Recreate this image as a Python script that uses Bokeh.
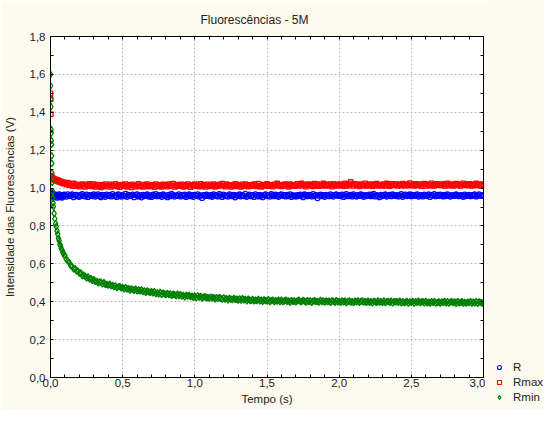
from bokeh.plotting import figure
from bokeh.layouts import row
from bokeh.models import (FixedTicker, CustomJSTickFormatter, LinearAxis, Legend,
                          LegendItem, Range1d, ColumnDataSource)
from bokeh.embed import file_html
from bokeh.resources import INLINE

# ---------------- data ----------------
tempo = [
    0.000, 0.001, 0.002, 0.003, 0.004, 0.005, 0.006, 0.007, 0.008, 0.009,
    0.010, 0.012, 0.014, 0.016, 0.018, 0.020, 0.025, 0.030, 0.035, 0.040,
    0.045, 0.050, 0.055, 0.060, 0.065, 0.070, 0.075, 0.080, 0.085, 0.090, 0.095,
    0.10, 0.11, 0.12, 0.13, 0.14, 0.15, 0.16, 0.17, 0.18, 0.19,
    0.20, 0.21, 0.22, 0.23, 0.24, 0.25, 0.26, 0.27, 0.28, 0.29,
    0.30, 0.31, 0.32, 0.33, 0.34, 0.35, 0.36, 0.37, 0.38, 0.39,
    0.40, 0.41, 0.42, 0.43, 0.44, 0.45, 0.46, 0.47, 0.48, 0.49,
    0.50, 0.51, 0.52, 0.53, 0.54, 0.55, 0.56, 0.57, 0.58, 0.59,
    0.60, 0.61, 0.62, 0.63, 0.64, 0.65, 0.66, 0.67, 0.68, 0.69,
    0.70, 0.71, 0.72, 0.73, 0.74, 0.75, 0.76, 0.77, 0.78, 0.79,
    0.80, 0.81, 0.82, 0.83, 0.84, 0.85, 0.86, 0.87, 0.88, 0.89,
    0.90, 0.91, 0.92, 0.93, 0.94, 0.95, 0.96, 0.97, 0.98, 0.99,
    1.00, 1.01, 1.02, 1.03, 1.04, 1.05, 1.06, 1.07, 1.08, 1.09,
    1.10, 1.11, 1.12, 1.13, 1.14, 1.15, 1.16, 1.17, 1.18, 1.19,
    1.20, 1.21, 1.22, 1.23, 1.24, 1.25, 1.26, 1.27, 1.28, 1.29,
    1.30, 1.31, 1.32, 1.33, 1.34, 1.35, 1.36, 1.37, 1.38, 1.39,
    1.40, 1.41, 1.42, 1.43, 1.44, 1.45, 1.46, 1.47, 1.48, 1.49,
    1.50, 1.51, 1.52, 1.53, 1.54, 1.55, 1.56, 1.57, 1.58, 1.59,
    1.60, 1.61, 1.62, 1.63, 1.64, 1.65, 1.66, 1.67, 1.68, 1.69,
    1.70, 1.71, 1.72, 1.73, 1.74, 1.75, 1.76, 1.77, 1.78, 1.79,
    1.80, 1.81, 1.82, 1.83, 1.84, 1.85, 1.86, 1.87, 1.88, 1.89,
    1.90, 1.91, 1.92, 1.93, 1.94, 1.95, 1.96, 1.97, 1.98, 1.99,
    2.00, 2.01, 2.02, 2.03, 2.04, 2.05, 2.06, 2.07, 2.08, 2.09,
    2.10, 2.11, 2.12, 2.13, 2.14, 2.15, 2.16, 2.17, 2.18, 2.19,
    2.20, 2.21, 2.22, 2.23, 2.24, 2.25, 2.26, 2.27, 2.28, 2.29,
    2.30, 2.31, 2.32, 2.33, 2.34, 2.35, 2.36, 2.37, 2.38, 2.39,
    2.40, 2.41, 2.42, 2.43, 2.44, 2.45, 2.46, 2.47, 2.48, 2.49,
    2.50, 2.51, 2.52, 2.53, 2.54, 2.55, 2.56, 2.57, 2.58, 2.59,
    2.60, 2.61, 2.62, 2.63, 2.64, 2.65, 2.66, 2.67, 2.68, 2.69,
    2.70, 2.71, 2.72, 2.73, 2.74, 2.75, 2.76, 2.77, 2.78, 2.79,
    2.80, 2.81, 2.82, 2.83, 2.84, 2.85, 2.86, 2.87, 2.88, 2.89,
    2.90, 2.91, 2.92, 2.93, 2.94, 2.95, 2.96, 2.97, 2.98, 2.99,
    3.00,
]

R = [
    0.985, 0.978, 0.972, 0.968, 0.965, 0.961, 0.958, 0.963, 0.955, 0.960,
    0.957, 0.962, 0.953, 0.959, 0.964, 0.951, 0.958, 0.966, 0.954, 0.960,
    0.949, 0.962, 0.957, 0.967, 0.952, 0.959, 0.963, 0.950, 0.961, 0.956, 0.965,
    0.963, 0.955, 0.967, 0.958, 0.960, 0.966, 0.952, 0.961, 0.964, 0.957,
    0.954, 0.962, 0.968, 0.959, 0.956, 0.965, 0.953, 0.963, 0.960, 0.958,
    0.966, 0.955, 0.961, 0.967, 0.957, 0.952, 0.964, 0.962, 0.954, 0.965,
    0.959, 0.963, 0.956, 0.968, 0.958, 0.960, 0.953, 0.966, 0.961, 0.955,
    0.962, 0.957, 0.969, 0.954, 0.964, 0.959, 0.960, 0.965, 0.952, 0.963,
    0.967, 0.956, 0.961, 0.951, 0.964, 0.958, 0.962, 0.966, 0.955, 0.960,
    0.953, 0.965, 0.959, 0.968, 0.957, 0.961, 0.963, 0.954, 0.966, 0.958,
    0.960, 0.952, 0.964, 0.957, 0.969, 0.962, 0.955, 0.961, 0.959, 0.967,
    0.956, 0.963, 0.958, 0.965, 0.953, 0.960, 0.966, 0.957, 0.962, 0.954,
    0.964, 0.959, 0.967, 0.955, 0.961, 0.948, 0.963, 0.958, 0.965, 0.960,
    0.957, 0.962, 0.954, 0.966, 0.959, 0.963, 0.956, 0.968, 0.961, 0.953,
    0.965, 0.958, 0.960, 0.955, 0.967, 0.962, 0.957, 0.964, 0.951, 0.961,
    0.959, 0.966, 0.956, 0.963, 0.958, 0.969, 0.954, 0.960, 0.965, 0.957,
    0.962, 0.953, 0.967, 0.960, 0.956, 0.964, 0.959, 0.952, 0.963, 0.966,
    0.958, 0.961, 0.955, 0.968, 0.962, 0.957, 0.965, 0.960, 0.954, 0.963,
    0.966, 0.959, 0.962, 0.956, 0.964, 0.958, 0.967, 0.953, 0.961, 0.960,
    0.955, 0.963, 0.958, 0.965, 0.960, 0.952, 0.966, 0.962, 0.957, 0.964,
    0.961, 0.956, 0.968, 0.959, 0.963, 0.947, 0.960, 0.965, 0.958, 0.962,
    0.954, 0.964, 0.960, 0.957, 0.967, 0.961, 0.955, 0.963, 0.966, 0.959,
    0.962, 0.958, 0.965, 0.953, 0.961, 0.968, 0.957, 0.960, 0.964, 0.956,
    0.967, 0.960, 0.955, 0.963, 0.959, 0.966, 0.961, 0.954, 0.962, 0.958,
    0.960, 0.965, 0.957, 0.962, 0.969, 0.956, 0.963, 0.959, 0.952, 0.964,
    0.958, 0.961, 0.966, 0.955, 0.960, 0.964, 0.957, 0.967, 0.962, 0.959,
    0.963, 0.956, 0.960, 0.968, 0.954, 0.962, 0.965, 0.958, 0.961, 0.966,
    0.957, 0.964, 0.959, 0.962, 0.967, 0.955, 0.960, 0.963, 0.956, 0.965,
    0.961, 0.958, 0.966, 0.953, 0.963, 0.960, 0.968, 0.957, 0.964, 0.959,
    0.965, 0.960, 0.956, 0.964, 0.958, 0.967, 0.962, 0.955, 0.961, 0.963,
    0.959, 0.966, 0.961, 0.957, 0.963, 0.960, 0.954, 0.965, 0.958, 0.962,
    0.964, 0.957, 0.963, 0.960, 0.966, 0.956, 0.961, 0.967, 0.959, 0.962,
    0.960,
]

Rmax = [
    1.500, 1.470, 1.390, 1.066, 1.061, 1.058, 1.063, 1.055, 1.059, 1.052,
    1.056, 1.050, 1.054, 1.047, 1.051, 1.045, 1.048, 1.042, 1.046, 1.039,
    1.043, 1.036, 1.040, 1.033, 1.037, 1.030, 1.034, 1.027, 1.031, 1.024, 1.029,
    1.026, 1.018, 1.029, 1.015, 1.022, 1.012, 1.024, 1.010, 1.019, 1.014,
    1.008, 1.017, 1.021, 1.011, 1.006, 1.019, 1.013, 1.022, 1.009, 1.016,
    1.020, 1.007, 1.014, 1.018, 1.010, 1.004, 1.016, 1.012, 1.021, 1.008,
    1.013, 1.019, 1.006, 1.015, 1.011, 1.022, 1.009, 1.017, 1.005, 1.014,
    1.018, 1.010, 1.021, 1.007, 1.013, 1.016, 1.004, 1.019, 1.012, 1.008,
    1.015, 1.022, 1.009, 1.014, 1.006, 1.018, 1.011, 1.020, 1.008, 1.013,
    1.010, 1.017, 1.005, 1.021, 1.013, 1.009, 1.016, 1.007, 1.019, 1.012,
    1.016, 1.008, 1.020, 1.011, 1.014, 1.023, 1.006, 1.015, 1.010, 1.018,
    1.012, 1.019, 1.007, 1.016, 1.009, 1.021, 1.013, 1.005, 1.017, 1.011,
    1.020, 1.010, 1.015, 1.008, 1.022, 1.012, 1.018, 1.006, 1.014, 1.019,
    1.009, 1.016, 1.011, 1.021, 1.007, 1.015, 1.010, 1.019, 1.013, 1.023,
    1.014, 1.008, 1.020, 1.012, 1.017, 1.006, 1.016, 1.011, 1.022, 1.009,
    1.018, 1.013, 1.007, 1.019, 1.010, 1.021, 1.014, 1.008, 1.017, 1.012,
    1.011, 1.020, 1.015, 1.009, 1.023, 1.013, 1.006, 1.018, 1.012, 1.016,
    1.022, 1.010, 1.017, 1.013, 1.008, 1.019, 1.015, 1.024, 1.011, 1.014,
    1.009, 1.018, 1.012, 1.021, 1.016, 1.007, 1.020, 1.013, 1.017, 1.010,
    1.015, 1.022, 1.011, 1.017, 1.024, 1.013, 1.019, 1.008, 1.016, 1.021,
    1.012, 1.018, 1.009, 1.023, 1.014, 1.020, 1.010, 1.017, 1.013, 1.024,
    1.016, 1.011, 1.021, 1.014, 1.019, 1.008, 1.022, 1.015, 1.012, 1.018,
    1.020, 1.013, 1.017, 1.010, 1.024, 1.016, 1.011, 1.021, 1.032, 1.019,
    1.012, 1.022, 1.015, 1.018, 1.009, 1.020, 1.016, 1.013, 1.025, 1.011,
    1.017, 1.014, 1.021, 1.010, 1.019, 1.015, 1.023, 1.012, 1.018, 1.016,
    1.013, 1.020, 1.011, 1.024, 1.016, 1.010, 1.019, 1.022, 1.014, 1.017,
    1.021, 1.012, 1.018, 1.015, 1.023, 1.011, 1.017, 1.020, 1.013, 1.026,
    1.015, 1.019, 1.012, 1.022, 1.016, 1.014, 1.021, 1.010, 1.018, 1.023,
    1.011, 1.020, 1.017, 1.013, 1.025, 1.016, 1.012, 1.019, 1.022, 1.015,
    1.018, 1.014, 1.022, 1.011, 1.019, 1.024, 1.013, 1.017, 1.020, 1.012,
    1.016, 1.023, 1.014, 1.020, 1.012, 1.018, 1.025, 1.015, 1.019, 1.013,
    1.022, 1.017, 1.011, 1.021, 1.016, 1.024, 1.014, 1.019, 1.013, 1.020,
    1.017,
]

Rmin = [
    1.600, 1.540, 1.470, 1.430, 1.310, 1.290, 1.250, 1.230, 1.170, 1.130,
    1.080, 1.030, 0.982, 0.947, 0.921, 0.902, 0.866, 0.838, 0.812, 0.796,
    0.774, 0.757, 0.734, 0.722, 0.703, 0.694, 0.680, 0.673, 0.661, 0.657, 0.645,
    0.643, 0.624, 0.616, 0.607, 0.591, 0.586, 0.573, 0.575, 0.563, 0.562,
    0.551, 0.552, 0.538, 0.541, 0.534, 0.526, 0.531, 0.521, 0.522, 0.513,
    0.517, 0.507, 0.508, 0.500, 0.505, 0.502, 0.494, 0.501, 0.492, 0.492,
    0.487, 0.493, 0.485, 0.486, 0.479, 0.484, 0.474, 0.479, 0.480, 0.473,
    0.475, 0.468, 0.475, 0.467, 0.469, 0.461, 0.468, 0.464, 0.460, 0.466,
    0.457, 0.462, 0.457, 0.462, 0.453, 0.457, 0.449, 0.457, 0.452, 0.449,
    0.453, 0.447, 0.453, 0.443, 0.447, 0.442, 0.449, 0.439, 0.445, 0.442,
    0.438, 0.444, 0.438, 0.441, 0.433, 0.440, 0.436, 0.432, 0.440, 0.432,
    0.437, 0.430, 0.433, 0.426, 0.434, 0.429, 0.434, 0.427, 0.430, 0.423,
    0.429, 0.422, 0.431, 0.424, 0.428, 0.419, 0.424, 0.427, 0.420, 0.423,
    0.419, 0.425, 0.420, 0.422, 0.415, 0.422, 0.417, 0.423, 0.418, 0.413,
    0.421, 0.414, 0.417, 0.410, 0.418, 0.414, 0.411, 0.418, 0.412, 0.414,
    0.408, 0.415, 0.409, 0.416, 0.410, 0.412, 0.405, 0.414, 0.409, 0.406,
    0.412, 0.404, 0.409, 0.406, 0.412, 0.404, 0.409, 0.402, 0.410, 0.406,
    0.404, 0.411, 0.401, 0.406, 0.408, 0.400, 0.406, 0.403, 0.408, 0.401,
    0.408, 0.401, 0.404, 0.409, 0.402, 0.405, 0.398, 0.406, 0.402, 0.404,
    0.399, 0.405, 0.408, 0.402, 0.400, 0.407, 0.403, 0.398, 0.406, 0.401,
    0.405, 0.397, 0.403, 0.406, 0.400, 0.402, 0.398, 0.407, 0.401, 0.404,
    0.398, 0.405, 0.400, 0.403, 0.396, 0.404, 0.402, 0.397, 0.406, 0.399,
    0.402, 0.396, 0.405, 0.399, 0.403, 0.395, 0.400, 0.404, 0.398, 0.401,
    0.395, 0.403, 0.399, 0.404, 0.397, 0.402, 0.405, 0.398, 0.400, 0.396,
    0.403, 0.397, 0.400, 0.394, 0.402, 0.399, 0.396, 0.404, 0.398, 0.401,
    0.396, 0.404, 0.395, 0.400, 0.402, 0.397, 0.403, 0.394, 0.401, 0.399,
    0.401, 0.397, 0.403, 0.394, 0.400, 0.395, 0.398, 0.402, 0.393, 0.399,
    0.396, 0.402, 0.393, 0.401, 0.397, 0.403, 0.395, 0.399, 0.400, 0.394,
    0.402, 0.394, 0.398, 0.393, 0.400, 0.396, 0.401, 0.392, 0.397, 0.399,
    0.393, 0.399, 0.396, 0.402, 0.394, 0.400, 0.392, 0.398, 0.401, 0.395,
    0.399, 0.391, 0.400, 0.394, 0.396, 0.401, 0.393, 0.397, 0.392, 0.398,
    0.395, 0.400, 0.392, 0.398, 0.394, 0.401, 0.391, 0.399, 0.396, 0.393,
    0.397,
]

series_names = ["R", "Rmax", "Rmin"]

x_ticks = [0.0, 0.5, 1.0, 1.5, 2.0, 2.5, 3.0]
x_tick_labels = ["0,0", "0,5", "1,0", "1,5", "2,0", "2,5", "3,0"]
x_minor = [0.1, 0.2, 0.3, 0.4, 0.6, 0.7, 0.8, 0.9, 1.1, 1.2, 1.3, 1.4,
           1.6, 1.7, 1.8, 1.9, 2.1, 2.2, 2.3, 2.4, 2.6, 2.7, 2.8, 2.9]
y_ticks = [0.0, 0.2, 0.4, 0.6, 0.8, 1.0, 1.2, 1.4, 1.6, 1.8]
y_tick_labels = ["0,0", "0,2", "0,4", "0,6", "0,8", "1,0", "1,2", "1,4", "1,6", "1,8"]
y_minor = [0.1, 0.3, 0.5, 0.7, 0.9, 1.1, 1.3, 1.5, 1.7]

assert len(tempo) == len(R) == len(Rmax) == len(Rmin), (len(tempo), len(R), len(Rmax), len(Rmin))

# ---------------- styles ----------------
BG = "#FDFAF0"
FONT = "Liberation Sans"
TXT = "#222222"
COLORS = ["#0000FF", "#FF0000", "#008000"]
MARKERS = ["circle", "square", "diamond"]
SIZES = [5, 4.5, 6.5]

# ---------------- main figure ----------------
p = figure(width=485, height=409, output_backend="svg", toolbar_location=None,
           x_range=Range1d(0, 3), y_range=Range1d(0, 1.8),
           min_border_left=46, min_border_right=2, min_border_top=35,
           min_border_bottom=32, border_fill_color=BG,
           background_fill_color="white")
p.frame_align = False

p.title.text = "Fluorescências - 5M"
p.title.align = "left"
p.title.offset = 150
p.title.text_font = FONT
p.title.text_font_size = "12px"
p.title.text_font_style = "normal"
p.title.text_color = TXT
p.title.standoff = 20

p.outline_line_color = "black"
p.outline_line_width = 1

xt = FixedTicker(ticks=x_ticks, minor_ticks=x_minor)
yt = FixedTicker(ticks=y_ticks, minor_ticks=y_minor)

code = ("const i = vals.findIndex(v => Math.abs(v - tick) < 1e-9);"
        "return i >= 0 ? labs[i] : '';")
xf = CustomJSTickFormatter(args=dict(vals=x_ticks, labs=x_tick_labels), code=code)
yf = CustomJSTickFormatter(args=dict(vals=y_ticks, labs=y_tick_labels), code=code)
blank = CustomJSTickFormatter(code="return '';")


def style_axis(ax, ticker, formatter):
    ax.ticker = ticker
    ax.formatter = formatter
    ax.major_tick_in = 3
    ax.major_tick_out = 0
    ax.minor_tick_in = 3
    ax.minor_tick_out = 0
    ax.axis_line_color = "black"
    ax.major_tick_line_color = "black"
    ax.minor_tick_line_color = "black"
    ax.major_label_text_font = FONT
    ax.major_label_text_font_size = "11.5px"
    ax.major_label_text_color = TXT
    ax.axis_label_text_font = FONT
    ax.axis_label_text_font_size = "11.5px"
    ax.axis_label_text_font_style = "normal"
    ax.axis_label_text_color = TXT


xa = p.xaxis[0]
style_axis(xa, xt, xf)
xa.axis_label = "Tempo (s)"
xa.major_label_standoff = 1
xa.axis_label_standoff = 3

ya = p.yaxis[0]
style_axis(ya, yt, yf)
ya.axis_label = "Intensidade das Fluorescências (V)"
ya.major_label_standoff = 5
ya.axis_label_standoff = 11

for loc, tk in (("above", xt), ("right", yt)):
    ax = LinearAxis(ticker=tk, formatter=blank)
    ax.major_tick_in = 3
    ax.major_tick_out = 0
    ax.minor_tick_in = 3
    ax.minor_tick_out = 0
    ax.major_label_text_font_size = "1px"
    ax.major_label_text_color = None
    ax.major_label_standoff = 0
    ax.axis_line_color = "black"
    p.add_layout(ax, loc)

p.xgrid.ticker = xt
p.ygrid.ticker = yt
for g in (p.xgrid[0], p.ygrid[0]):
    g.grid_line_color = "#BDBDBD"
    g.grid_line_dash = "2 2"
    g.grid_line_width = 1

src = ColumnDataSource(data=dict(t=tempo, R=R, Rmax=Rmax, Rmin=Rmin))
for name, col, mk, sz in zip(series_names, COLORS, MARKERS, SIZES):
    p.scatter("t", name, source=src, marker=mk, size=sz, fill_color=None,
              line_color=col, line_width=1.3)

# ---------------- legend strip (right of the plot) ----------------
# same series drawn again, but the strip's y-range lies away from the data,
# so only the legend entries show
q = figure(width=59, height=409, output_backend="svg", toolbar_location=None,
           x_range=Range1d(0, 3), y_range=Range1d(10, 11),
           x_axis_location=None, y_axis_location=None,
           min_border_left=0, min_border_right=0, min_border_top=0,
           min_border_bottom=0, border_fill_color=BG, background_fill_color=BG,
           outline_line_color=None, title=None)
q.frame_align = False
q.grid.visible = False

items = []
for name, col, mk, sz in zip(series_names, COLORS, MARKERS, SIZES):
    rr = q.scatter("t", name, source=src, marker=mk, size=sz, fill_color=None,
                   line_color=col, line_width=1.1)
    items.append(LegendItem(label=name, renderers=[rr]))

legend = Legend(items=items, location=(9, 5), padding=0, margin=0, spacing=1,
                glyph_width=10, glyph_height=14, label_height=14, label_standoff=9,
                label_text_font=FONT, label_text_font_size="11.5px",
                label_text_color=TXT, background_fill_alpha=0,
                border_line_color=None)
q.add_layout(legend)

layout = row(p, q, spacing=0)
open("out.html", "w").write(file_html(layout, INLINE))
